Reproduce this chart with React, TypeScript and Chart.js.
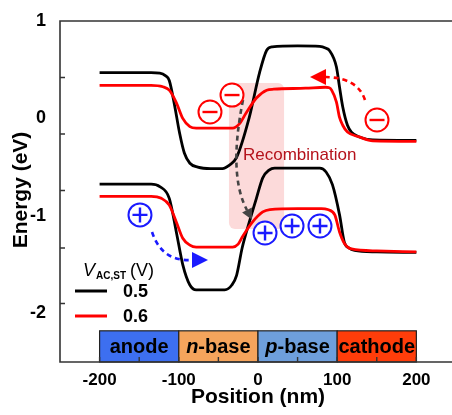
import React, { useEffect, useRef } from "react";
import { Chart, registerables } from "chart.js";
Chart.register(...registerables);

const FONT = "'Liberation Sans', Arial, Helvetica, sans-serif";

// ---- data (Position in nm, Energy in eV) ----
const upperBlackX = [-200, -135, -124, -117, -112, -105, -99, -93, -86, -76, -60, -45, -36, -27, -11, 2, 11, 18, 50, 78, 86, 90, 99, 103, 107, 113, 118, 128, 145, 200];
const upperBlackY = [0.47, 0.47, 0.465, 0.44, 0.39, 0.12, -0.15, -0.355, -0.46, -0.5, -0.515, -0.515, -0.48, -0.4, 0.01, 0.47, 0.7, 0.735, 0.745, 0.74, 0.72, 0.7, 0.53, 0.32, 0.12, -0.07, -0.14, -0.19, -0.22, -0.225];

const upperRedX = [-200, -135, -120, -112, -103, -95, -86, -78, -32, -23, -15, -2, 11, 20, 60, 85, 90, 93, 99, 103, 107, 113, 128, 145, 200];
const upperRedY = [0.34, 0.34, 0.325, 0.29, 0.16, 0.0, -0.085, -0.1, -0.1, -0.05, 0.055, 0.21, 0.29, 0.3, 0.31, 0.32, 0.315, 0.29, 0.17, 0.01, -0.07, -0.14, -0.19, -0.23, -0.235];

const lowerBlackX = [-200, -135, -124, -112, -103, -95, -86, -78, -42, -33, -27, -20, -11, -2, 6, 14, 21, 78, 86, 94, 103, 109, 115, 122, 150, 200];
const lowerBlackY = [-0.675, -0.675, -0.7, -0.82, -1.17, -1.5, -1.71, -1.76, -1.76, -1.71, -1.61, -1.33, -1.065, -0.82, -0.61, -0.53, -0.51, -0.51, -0.55, -0.68, -0.99, -1.27, -1.33, -1.355, -1.37, -1.375];

const lowerRedX = [-200, -135, -122, -112, -103, -95, -86, -78, -32, -25, -20, -7, 6, 15, 50, 80, 88, 97, 103, 109, 118, 150, 200];
const lowerRedY = [-0.8, -0.8, -0.82, -0.89, -1.065, -1.23, -1.3, -1.32, -1.32, -1.29, -1.22, -1.065, -0.96, -0.935, -0.925, -0.925, -0.935, -0.99, -1.165, -1.28, -1.34, -1.36, -1.37];

const seriesNames = ["0.5", "0.6"];
const xTickValues = [-200, -100, 0, 100, 200];
const xMinorTicks = [-200, -150, -100, -50, 0, 50, 100, 150, 200];
const yTickValues = [1, 0, -1, -2];
const yMinorTicks = [0.42, -0.16, -0.74, -1.33, -1.9];
const regionNames = ["anode", "n-base", "p-base", "cathode"];
const regionBounds = [-200, -100, 0, 100, 200];

// ---- annotations (data coordinates) ----
const minusCharges = [[-60.6, 0.066], [-32.8, 0.24], [150.3, -0.016]];
const plusCharges = [[-149, -0.99], [8.9, -1.176], [43, -1.104], [78.3, -1.104]];
const recombBox = { x0: -36.6, x1: 32.9, y0: 0.363, y1: -1.135 };
const recombLabel = { x: -18.9, y: -0.376, text: "Recombination" };
const arrows = [
  { color: "#ff0000", s: [135.1, 0.189], c: [126.3, 0.415], e: [85.9, 0.425], t: [65.7, 0.425] },
  { color: "#1a1aff", s: [-133.8, -1.166], c: [-121.2, -1.474], e: [-83.3, -1.453], t: [-63.1, -1.453] },
  { color: "#444444", s: [-18.9, 0.189], c: [-37.9, -0.58], e: [-13.9, -0.94], t: [-7.5, -1.04] },
];

const BLACK = "#000000";
const RED = "#ff0000";
const BLUE = "#1a1aff";
const regionColors = ["#3d6ff0", "#f5a45c", "#6e9fdc", "#ff3d0a"];

function mk(xs: number[], ys: number[], color: string, order: number) {
  return {
    data: xs.map((x, i) => ({ x, y: ys[i] })),
    borderColor: color,
    borderWidth: 2.8,
    pointRadius: 0,
    cubicInterpolationMode: "monotone" as const,
    fill: false,
    order,
  };
}

const overlay = {
  id: "overlay",
  beforeDatasetsDraw(chart: any) {
    const { ctx, scales } = chart;
    const X = (v: number) => scales.x.getPixelForValue(v);
    const Y = (v: number) => scales.y.getPixelForValue(v);
    ctx.save();
    ctx.fillStyle = "rgba(251, 200, 200, 0.68)";
    const bx = X(recombBox.x0), by = Y(recombBox.y0);
    const bw = X(recombBox.x1) - bx, bh = Y(recombBox.y1) - by;
    ctx.beginPath();
    ctx.roundRect(bx, by, bw, bh, 6);
    ctx.fill();
    ctx.restore();
  },
  afterDatasetsDraw(chart: any) {
    const { ctx, scales, chartArea } = chart;
    const X = (v: number) => scales.x.getPixelForValue(v);
    const Y = (v: number) => scales.y.getPixelForValue(v);
    ctx.save();

    // region bar
    const barTop = Y(-2.18), barBot = chartArea.bottom;
    for (let i = 0; i < regionNames.length; i++) {
      const x0 = X(regionBounds[i]), x1 = X(regionBounds[i + 1]);
      ctx.fillStyle = regionColors[i];
      ctx.fillRect(x0, barTop, x1 - x0, barBot - barTop);
      ctx.strokeStyle = "#222";
      ctx.lineWidth = 1.2;
      ctx.strokeRect(x0, barTop, x1 - x0, barBot - barTop);
      const name = regionNames[i];
      const cx = (x0 + x1) / 2, cy = (barTop + barBot) / 2 + 1;
      ctx.fillStyle = "#000";
      ctx.textBaseline = "middle";
      ctx.textAlign = "left";
      const parts = name.includes("-") ? [name.slice(0, 1), name.slice(1)] : [name];
      const fonts = parts.length === 2 ? [`italic bold 20px ${FONT}`, `bold 20px ${FONT}`] : [`bold 20px ${FONT}`];
      let total = 0;
      const widths = parts.map((p, k) => { ctx.font = fonts[k]; const w = ctx.measureText(p).width; total += w; return w; });
      let cursor = cx - total / 2;
      parts.forEach((p, k) => { ctx.font = fonts[k]; ctx.fillText(p, cursor, cy); cursor += widths[k]; });
    }

    // frame
    ctx.strokeStyle = "#333";
    ctx.lineWidth = 1.6;
    ctx.beginPath();
    ctx.moveTo(chartArea.right + 2, chartArea.top);
    ctx.lineTo(chartArea.left, chartArea.top);
    ctx.lineTo(chartArea.left, chartArea.bottom);
    ctx.lineTo(chartArea.right + 2, chartArea.bottom);
    ctx.stroke();
    // inward ticks
    ctx.lineWidth = 1.4;
    ctx.beginPath();
    xMinorTicks.forEach((v) => { const px = X(v); ctx.moveTo(px, chartArea.bottom); ctx.lineTo(px, chartArea.bottom - 5); });
    yMinorTicks.forEach((v) => { const py = Y(v); ctx.moveTo(chartArea.left, py); ctx.lineTo(chartArea.left + 5, py); });
    ctx.stroke();

    // recombination label
    ctx.fillStyle = "#b5121b";
    ctx.font = `17px ${FONT}`;
    ctx.textAlign = "left";
    ctx.textBaseline = "middle";
    ctx.fillText(recombLabel.text, X(recombLabel.x), Y(recombLabel.y));

    // arrows
    arrows.forEach((a) => {
      const sx = X(a.s[0]), sy = Y(a.s[1]);
      const cx = X(a.c[0]), cy = Y(a.c[1]);
      const ex = X(a.e[0]), ey = Y(a.e[1]);
      const tx = X(a.t[0]), ty = Y(a.t[1]);
      ctx.strokeStyle = a.color;
      ctx.fillStyle = a.color;
      ctx.lineWidth = 2.6;
      ctx.setLineDash([5, 4]);
      ctx.beginPath();
      ctx.moveTo(sx, sy);
      ctx.quadraticCurveTo(cx, cy, ex, ey);
      ctx.stroke();
      ctx.setLineDash([]);
      const ang = Math.atan2(ty - ey, tx - ex);
      const len = Math.hypot(tx - ex, ty - ey);
      const half = len * 0.5;
      const bxp = tx - Math.cos(ang) * len, byp = ty - Math.sin(ang) * len;
      ctx.beginPath();
      ctx.moveTo(tx, ty);
      ctx.lineTo(bxp - Math.sin(ang) * half, byp + Math.cos(ang) * half);
      ctx.lineTo(bxp + Math.sin(ang) * half, byp - Math.cos(ang) * half);
      ctx.closePath();
      ctx.fill();
    });

    // charges
    const drawCharge = (x: number, y: number, color: string, plus: boolean) => {
      const px = X(x), py = Y(y), r = 11.5;
      ctx.fillStyle = "#fff";
      ctx.strokeStyle = color;
      ctx.lineWidth = 2;
      ctx.beginPath();
      ctx.arc(px, py, r, 0, Math.PI * 2);
      ctx.fill();
      ctx.stroke();
      ctx.lineWidth = 2.4;
      ctx.beginPath();
      ctx.moveTo(px - 7.5, py);
      ctx.lineTo(px + 7.5, py);
      if (plus) { ctx.moveTo(px, py - 7.5); ctx.lineTo(px, py + 7.5); }
      ctx.stroke();
    };
    minusCharges.forEach(([x, y]) => drawCharge(x, y, RED, false));
    plusCharges.forEach(([x, y]) => drawCharge(x, y, BLUE, true));

    // legend
    const lx = chartArea.left + 15;
    ctx.fillStyle = "#000";
    ctx.textBaseline = "alphabetic";
    ctx.textAlign = "left";
    let cur = chartArea.left + 23;
    const base = 276;
    ctx.font = `italic 18px ${FONT}`;
    ctx.fillText("V", cur, base);
    cur += ctx.measureText("V").width + 1;
    ctx.font = `bold 10px ${FONT}`;
    ctx.fillText("AC,ST", cur, base + 3);
    cur += ctx.measureText("AC,ST").width + 4;
    ctx.font = `18px ${FONT}`;
    ctx.fillText("(V)", cur, base);
    const legendColors = [BLACK, RED];
    seriesNames.forEach((n, i) => {
      const ly = 291 + i * 25;
      ctx.strokeStyle = legendColors[i];
      ctx.lineWidth = 3;
      ctx.beginPath();
      ctx.moveTo(lx, ly);
      ctx.lineTo(lx + 32, ly);
      ctx.stroke();
      ctx.fillStyle = "#000";
      ctx.font = `bold 18px ${FONT}`;
      ctx.textBaseline = "middle";
      ctx.fillText(n, lx + 48, ly + 1);
    });

    // axis titles
    ctx.fillStyle = "#000";
    ctx.font = `bold 21px ${FONT}`;
    ctx.textAlign = "center";
    ctx.textBaseline = "middle";
    ctx.fillText("Position (nm)", X(0), 397);
    ctx.save();
    ctx.translate(21, 190);
    ctx.rotate(-Math.PI / 2);
    ctx.fillText("Energy (eV)", 0, 0);
    ctx.restore();

    ctx.restore();
  },
};

export default function App() {
  const ref = useRef<HTMLCanvasElement>(null);
  useEffect(() => {
    const canvas = ref.current!;
    const chart = new Chart(canvas, {
      type: "line",
      data: {
        datasets: [
          mk(upperRedX, upperRedY, RED, 0),
          mk(lowerRedX, lowerRedY, RED, 0),
          mk(upperBlackX, upperBlackY, BLACK, 1),
          mk(lowerBlackX, lowerBlackY, BLACK, 1),
        ] as any,
      },
      options: {
        responsive: false,
        maintainAspectRatio: false,
        animation: false,
        devicePixelRatio: 1,
        layout: { padding: { top: 21, right: 0, left: 0, bottom: 0 } },
        plugins: { legend: { display: false }, tooltip: { enabled: false } },
        scales: {
          x: {
            type: "linear",
            min: -250,
            max: 245,
            grid: { display: false },
            border: { display: false },
            afterBuildTicks: (s: any) => { s.ticks = xTickValues.map((v) => ({ value: v })); },
            afterFit: (s: any) => { s.height = 53; },
            ticks: {
              padding: 0,
              color: "#000",
              font: { family: FONT, size: 17, weight: "bold" },
              callback: (v: any) => String(v),
              maxRotation: 0,
            },
          },
          y: {
            type: "linear",
            min: -2.5,
            max: 1,
            grid: { display: false },
            border: { display: false },
            afterBuildTicks: (s: any) => { s.ticks = yTickValues.map((v) => ({ value: v })); },
            afterFit: (s: any) => { s.width = 60; },
            ticks: {
              padding: 6,
              color: "#000",
              font: { family: FONT, size: 18, weight: "bold" },
              callback: (v: any) => String(v),
            },
          },
        },
      },
      plugins: [overlay],
    });
    return () => chart.destroy();
  }, []);
  return (
    <div style={{ position: "fixed", left: 0, top: 0, width: 452, height: 415, background: "#fff" }}>
      <canvas ref={ref} width={452} height={415} style={{ display: "block", width: 452, height: 415 }} />
    </div>
  );
}
